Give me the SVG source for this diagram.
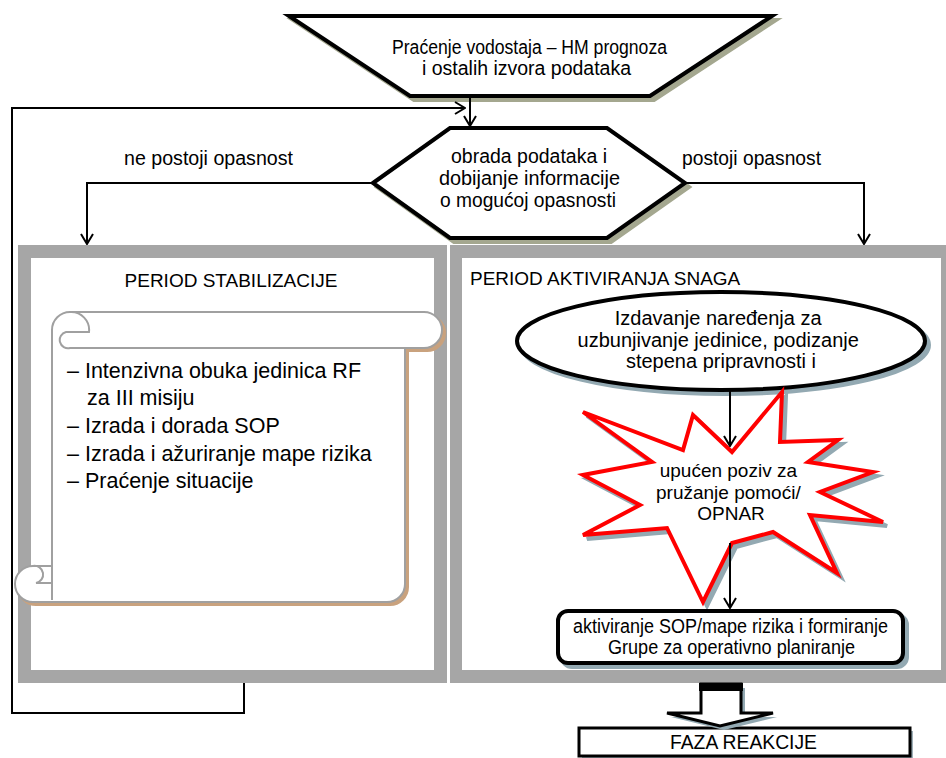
<svg xmlns="http://www.w3.org/2000/svg" width="946" height="758" viewBox="0 0 946 758">
<defs>
<style>
.n{font-family:"Liberation Sans Narrow","Liberation Sans",Arial,sans-serif;font-size:19.5px;fill:#000}
.r{font-family:"Liberation Sans",Arial,sans-serif;fill:#000}
.ln{fill:none;stroke:#000;stroke-width:2}
.sh1{fill:#a4a78f;stroke:#a4a78f;stroke-width:4}
.sh2{fill:#93a9b2;stroke:#93a9b2;stroke-width:4}
.bk{fill:#fff;stroke:#000;stroke-width:4}
.sc{fill:none;stroke:#a0a0a0;stroke-width:2}
</style>
<marker id="ah" viewBox="0 0 12 14" refX="11" refY="7" markerWidth="12" markerHeight="14" markerUnits="userSpaceOnUse" orient="auto">
<path d="M1,1 L11,7 L1,13" fill="none" stroke="#000" stroke-width="2"/>
</marker>
</defs>
<rect width="946" height="758" fill="#fff"/>

<g id="panel-stabilizacija">
<rect x="18" y="245" width="429" height="438" fill="#a6a6a6"/>
<rect x="31" y="258" width="403" height="412" fill="#fff"/>
<text class="r" x="231" y="287" font-size="19" text-anchor="middle">PERIOD STABILIZACIJE</text>
</g>

<g id="panel-aktiviranje">
<rect x="450" y="245" width="500" height="438" fill="#a6a6a6"/>
<rect x="462" y="258" width="479" height="412" fill="#fff"/>
<text class="r" x="470" y="285" font-size="19">PERIOD AKTIVIRANJA SNAGA</text>
</g>

<g id="scroll">
<path d="M52,566 L52,330 A18,18 0 0 1 70,312 L424,312 A18,18 0 0 1 424,348 L405,348 L405,584 A18,18 0 0 1 387,602 L33,602 A18,18 0 0 1 33,566 Z" transform="translate(3,3)" fill="#c9a27e" stroke="#c9a27e" stroke-width="2"/>
<path d="M52,566 L52,330 A18,18 0 0 1 70,312 L424,312 A18,18 0 0 1 424,348 L405,348 L405,584 A18,18 0 0 1 387,602 L33,602 A18,18 0 0 1 33,566 Z" fill="#fff" stroke="#a0a0a0" stroke-width="2"/>
<path class="sc" d="M405,348 L70,348 A8,8 0 0 1 66,332 L89,332 A18,18 0 0 0 70,312"/>
<path class="sc" d="M33,566 A8,8 0 0 1 36,583 L52,583 M52,566 L52,600"/>
<text class="r" font-size="21.5">
<tspan x="67" y="378">– Intenzivna obuka jedinica RF</tspan>
<tspan x="87" y="405">za III misiju</tspan>
<tspan x="67" y="433">– Izrada i dorada SOP</tspan>
<tspan x="67" y="461">– Izrada i ažuriranje mape rizika</tspan>
<tspan x="67" y="488">– Praćenje situacije</tspan>
</text>
</g>

<g id="pracenje">
<polygon class="sh1" points="293,20 776,20 654,100 414,100"/>
<polygon class="bk" points="289,16 772,16 650,96 410,96"/>
<text class="n" x="392" y="54" textLength="275" lengthAdjust="spacingAndGlyphs">Praćenje vodostaja – HM prognoza</text>
<text class="n" x="422" y="75" textLength="209" lengthAdjust="spacingAndGlyphs">i ostalih izvora podataka</text>
</g>

<g id="obrada">
<polygon class="sh1" points="377,187 454,132 611,132 689,187 611,242 454,242"/>
<polygon class="bk" points="373,183 450,128 607,128 685,183 607,238 450,238"/>
<text class="n" x="451" y="163" textLength="156" lengthAdjust="spacingAndGlyphs">obrada podataka i</text>
<text class="n" x="439" y="185" textLength="181" lengthAdjust="spacingAndGlyphs">dobijanje informacije</text>
<text class="n" x="440" y="207" textLength="176" lengthAdjust="spacingAndGlyphs">o mogućoj opasnosti</text>
</g>

<g id="izdavanje">
<ellipse class="sh2" cx="725" cy="345" rx="204" ry="49"/>
<ellipse class="bk" cx="721" cy="341" rx="204" ry="49"/>
<text class="r" font-size="20" text-anchor="middle">
<tspan x="721" y="325">Izdavanje naređenja za</tspan>
<tspan x="721" y="347">uzbunjivanje jedinice, podizanje</tspan>
<tspan x="721" y="368">stepena pripravnosti i</tspan>
</text>
</g>

<g id="poziv">
<polygon class="sh2" transform="translate(4,4)" points="583,412 683,450 693,415 732,452 782,392 780,442 838,440 808,462 873,472 820,492 883,522 810,515 837,573 773,532 732,543 703,602 667,528 583,535 640,505 583,475 652,462"/>
<polygon fill="#fff" stroke="#ff0000" stroke-width="4" stroke-linejoin="miter" points="583,412 683,450 693,415 732,452 782,392 780,442 838,440 808,462 873,472 820,492 883,522 810,515 837,573 773,532 732,543 703,602 667,528 583,535 640,505 583,475 652,462"/>
<text class="r" font-size="19" text-anchor="middle">
<tspan x="731" y="477">upućen poziv za</tspan>
<tspan x="731" y="499">pružanje pomoći/</tspan>
<tspan x="731" y="520">OPNAR</tspan>
</text>
</g>

<g id="aktiviranje-sop">
<rect class="sh2" x="562" y="615" width="345" height="52" rx="10"/>
<rect class="bk" x="558" y="611" width="345" height="52" rx="10"/>
<text class="n" x="573" y="633" font-size="18.5" textLength="315" lengthAdjust="spacingAndGlyphs">aktiviranje SOP/mape rizika i formiranje</text>
<text class="n" x="608" y="654" font-size="18.5" textLength="247" lengthAdjust="spacingAndGlyphs">Grupe za operativno planiranje</text>
</g>

<g id="faza-reakcije">
<rect x="582" y="731" width="331" height="30" fill="#9fb0b8"/>
<rect x="579" y="728" width="331" height="28" fill="#fff" stroke="#000" stroke-width="3"/>
<text class="n" x="670" y="749" font-size="20" textLength="147" lengthAdjust="spacingAndGlyphs">FAZA REAKCIJE</text>
</g>

<g id="connectors">
<path class="ln" d="M470,96 L470,126" marker-end="url(#ah)"/>
<path class="ln" d="M373,183 L87,183 L87,244" marker-end="url(#ah)"/>
<path class="ln" d="M685,183 L864,183 L864,244" marker-end="url(#ah)"/>
<path class="ln" d="M244,683 L244,713 L12,713 L12,108 L465,108" marker-end="url(#ah)"/>
<path class="ln" d="M730,391 L730,446" marker-end="url(#ah)"/>
<path class="ln" d="M730,543 L730,608" marker-end="url(#ah)"/>
<text class="n" x="124" y="165" textLength="169" lengthAdjust="spacingAndGlyphs">ne postoji opasnost</text>
<text class="n" x="682" y="165" textLength="139" lengthAdjust="spacingAndGlyphs">postoji opasnost</text>
<path d="M704,688 L704,717 L671,717 L724,730 L777,717 L745,717 L745,688 Z" fill="#93a9b2"/>
<path d="M701,684 L701,713 L667,713 L720,726 L773,713 L741,713 L741,684 Z" fill="#fff" stroke="#000" stroke-width="3" stroke-linejoin="miter"/>
<rect x="699" y="683" width="44" height="8" fill="#000"/>
</g>
</svg>
